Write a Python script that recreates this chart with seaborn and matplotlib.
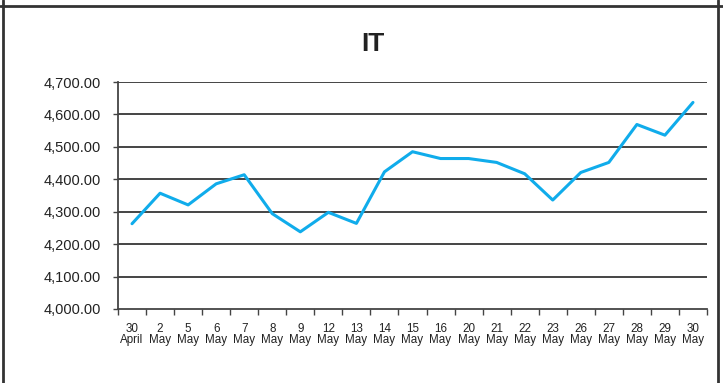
import matplotlib
matplotlib.use("Agg")
import matplotlib.pyplot as plt
from matplotlib.lines import Line2D
from matplotlib.ticker import FuncFormatter, FixedLocator
import seaborn as sns
import pandas as pd
import numpy as np

# Trading days and closing index values
days = ["30", "2", "5", "6", "7", "8", "9", "12", "13", "14", "15",
        "16", "20", "21", "22", "23", "26", "27", "28", "29", "30"]
months = ["April"] + ["May"] * 20
values = [4263, 4357, 4321, 4386, 4414, 4294, 4238, 4298, 4264, 4423, 4485,
          4464, 4464, 4452, 4417, 4336, 4421, 4452, 4569, 4536, 4637]
y_ticks = [4000, 4100, 4200, 4300, 4400, 4500, 4600, 4700]

sns.set_theme(style="white")
plt.rcParams["font.family"] = ["Liberation Sans", "DejaVu Sans"]

df = pd.DataFrame({
    "pos": np.arange(len(values)),
    "label": [f"{d}\n{m}" for d, m in zip(days, months)],
    "value": values,
})

fig = plt.figure(figsize=(7.23, 3.83), dpi=100)
ax = fig.add_axes([118 / 723, 1 - 309 / 383, (707 - 118) / 723, (309 - 82) / 383])

for v in y_ticks[1:]:
    ax.axhline(v, color="#363636", lw=1.3, zorder=1)

sns.lineplot(data=df, x="pos", y="value", ax=ax, color="#10aceb", lw=2.2,
             zorder=3, legend=False)

ax.set_xlim(-0.5, len(values) - 0.5)
ax.set_ylim(4000, 4700)
ax.set_xlabel("")
ax.set_ylabel("")

ax.yaxis.set_major_locator(FixedLocator(y_ticks))
ax.yaxis.set_major_formatter(FuncFormatter(lambda v, _: f"{v:,.2f}"))
ax.tick_params(axis="y", left=True, length=3.5, width=1, color="#444",
               labelsize=10.5, labelcolor="#222", pad=9)

ax.set_xticks(df["pos"])
ax.set_xticklabels(df["label"], fontsize=8.4, color="#222", linespacing=0.95)
ax.tick_params(axis="x", which="major", length=0, pad=10)
ax.set_xticks(np.arange(-0.5, len(values)), minor=True)
ax.tick_params(axis="x", which="minor", bottom=True, length=4, width=1,
               color="#444")

for side in ["top", "right"]:
    ax.spines[side].set_visible(False)
for side in ["left", "bottom"]:
    ax.spines[side].set_color("#444")
    ax.spines[side].set_linewidth(1.3)

fig.text(373 / 723, 1 - 44 / 383, "IT", ha="center", va="center",
         fontsize=19, fontweight="bold", color="#222")

# Surrounding frame
fig.add_artist(Line2D([2.5 / 723, 2.5 / 723], [0, 1], color="#333", lw=2,
                      transform=fig.transFigure))
fig.add_artist(Line2D([717.5 / 723, 717.5 / 723], [0, 1], color="#333", lw=2,
                      transform=fig.transFigure))
fig.add_artist(Line2D([0, 1], [1 - 5.5 / 383, 1 - 5.5 / 383], color="#333", lw=2,
                      transform=fig.transFigure))

fig.savefig("out.png", dpi=100)
